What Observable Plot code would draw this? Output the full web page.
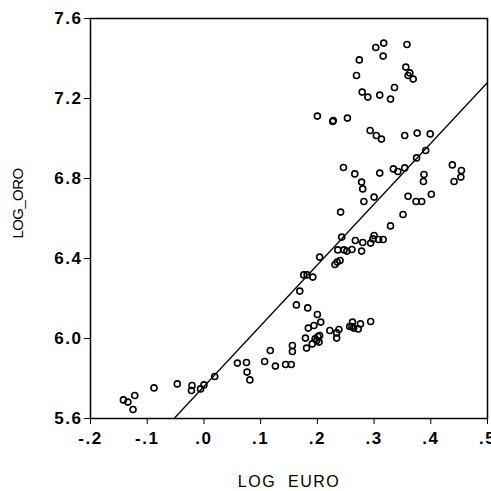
<!DOCTYPE html>
<html><head><meta charset="utf-8">
<script src="https://cdn.jsdelivr.net/npm/d3@7"></script>
<script src="https://cdn.jsdelivr.net/npm/@observablehq/plot@0.6"></script>
<style>
html,body{margin:0;padding:0;background:#fff;}
</style>
</head><body><div id="chart"></div>
<script>
const logEuro = [
  0.317,0.303,0.358,0.316,0.274,0.269,0.356,0.363,0.360,0.369,0.336,0.279,0.289,0.310,0.329,
  0.200,0.227,0.228,0.253,0.293,0.304,0.313,0.354,0.376,0.399,0.391,0.375,
  0.246,0.266,0.278,0.280,0.282,0.300,0.310,0.334,0.342,0.354,0.438,0.454,0.441,0.453,0.388,0.387,
  0.401,0.360,0.374,0.384,0.241,0.351,0.329,0.243,0.267,0.280,0.300,0.298,0.308,0.316,0.294,
  0.236,0.247,0.252,0.261,0.278,0.204,0.240,0.235,0.231,0.176,0.182,0.192,0.169,
  0.163,0.183,0.200,0.206,0.194,0.184,0.179,0.196,0.201,0.204,0.199,0.203,0.191,0.181,
  0.222,0.234,0.238,0.234,0.257,0.262,0.264,0.272,0.276,0.294,0.261,
  0.156,0.156,0.117,0.107,0.126,0.144,0.154,0.059,0.075,0.076,0.081,0.019,0.000,-0.006,
  -0.021,-0.022,-0.047,-0.088,-0.122,-0.142,-0.134,-0.125
];
const logOro = [
  7.477,7.455,7.470,7.412,7.393,7.315,7.357,7.328,7.315,7.297,7.255,7.232,7.207,7.217,7.197,
  7.112,7.085,7.090,7.102,7.040,7.015,6.997,7.015,7.027,7.023,6.940,6.903,
  6.855,6.823,6.782,6.748,6.685,6.707,6.827,6.848,6.835,6.853,6.868,6.840,6.785,6.807,6.820,6.785,
  6.721,6.711,6.685,6.685,6.632,6.620,6.563,6.507,6.490,6.480,6.515,6.498,6.495,6.495,6.477,
  6.443,6.443,6.437,6.445,6.437,6.407,6.390,6.382,6.370,6.318,6.318,6.307,6.237,
  6.168,6.153,6.120,6.082,6.065,6.052,6.002,5.998,6.010,6.015,5.990,5.982,5.973,5.952,
  6.040,6.028,6.045,6.002,6.060,6.082,6.052,6.048,6.073,6.085,6.060,
  5.965,5.935,5.940,5.885,5.862,5.870,5.870,5.877,5.880,5.832,5.793,5.810,5.768,5.748,
  5.765,5.740,5.773,5.753,5.715,5.693,5.682,5.645
];
const xTicks = [-0.2,-0.1,0,0.1,0.2,0.3,0.4,0.5];
const xTickLabels = ["-.2","-.1",".0",".1",".2",".3",".4",".5"];
const yTicks = [5.6,6.0,6.4,6.8,7.2,7.6];
const yTickLabels = ["5.6","6.0","6.4","6.8","7.2","7.6"];
const fitIntercept = 5.76;
const fitSlope = 3.04;
const xDomain = [-0.2, 0.5];
const yDomain = [5.6, 7.6];

const points = logEuro.map((x, i) => ({x, y: logOro[i]}));
const xStart = (yDomain[0] - fitIntercept) / fitSlope;
const fitLine = [xStart, xDomain[1]].map(x => ({x, y: fitIntercept + fitSlope * x}));

const chart = Plot.plot({
  width: 491, height: 491,
  marginLeft: 90, marginRight: 4, marginTop: 18, marginBottom: 73,
  style: {fontFamily: "'Liberation Sans', Arial, sans-serif", fontSize: "17px", fontWeight: "bold", letterSpacing: "1.5px", background: "#fff", color: "#000"},
  x: {domain: xDomain, ticks: xTicks, tickFormat: d => xTickLabels[xTicks.findIndex(t => Math.abs(t - d) < 1e-9)], tickSize: 6, tickPadding: 7, label: null},
  y: {domain: yDomain, ticks: yTicks, tickFormat: d => yTickLabels[yTicks.findIndex(t => Math.abs(t - d) < 1e-9)], tickSize: 6, tickPadding: 2, label: null},
  marks: [
    Plot.frame({stroke: "#000", strokeWidth: 1.5}),
    Plot.line(fitLine, {x: "x", y: "y", stroke: "#000", strokeWidth: 1.3}),
    Plot.dot(points, {x: "x", y: "y", r: 3, stroke: "#000", strokeWidth: 1.6, fill: "none"}),
    Plot.text(["LOG  EURO"], {frameAnchor: "bottom", dy: 68, fontSize: 16, fontWeight: "normal", text: d => d}),
    Plot.text(["LOG_ORO"], {frameAnchor: "left", dx: -72, dy: 20, rotate: -90, fontSize: 15, fontWeight: "normal", text: d => d})
  ]
});
d3.select(chart).selectAll("text").filter(function(){ return this.textContent === "LOG_ORO"; }).style("letter-spacing", "-0.6px");
document.getElementById("chart").appendChild(chart);
</script>
</body></html>
